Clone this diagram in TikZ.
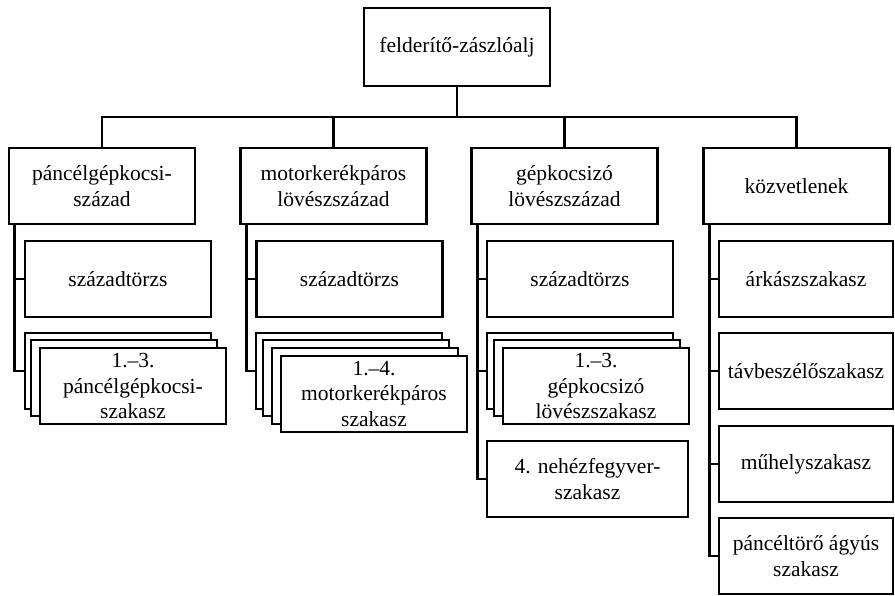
\documentclass[tikz,border=0pt]{standalone}
\usepackage{fontspec}
\setmainfont{Liberation Serif}
\begin{document}
\begin{tikzpicture}[x=1pt,y=-1pt,
  lw/.style={line width=2.6pt},
  box/.style={draw, lw, fill=white, align=center, inner sep=0pt,
    minimum width=186pt, minimum height=76pt,
    font=\fontsize{21.5}{25.5}\selectfont},
  link/.style={lw, line join=miter}]
\fill[white] (0,0) rectangle (895,596);
\useasboundingbox (0,0) rectangle (895,596);

% top
\node[box, minimum height=78pt] (top) at (457,47) {felderítő-zászlóalj};
% level 2
\node[box] (A) at (102,186) {páncélgépkocsi-\\század};
\node[box] (B) at (333.5,186) {motorkerékpáros\\lövészszázad};
\node[box] (C) at (564.5,186) {gépkocsizó\\lövészszázad};
\node[box] (D) at (796.5,186) {közvetlenek};

% column 1
\node[box] (sz1) at (118,279) {századtörzs};
\node[box] (a1) at (118,371) {};
\node[box] (a2) at (124,378) {};
\node[box] (a3) at (133,386) {1.–3.\\páncélgépkocsi-\\szakasz};

% column 2
\node[box] (sz2) at (349.5,279) {századtörzs};
\node[box] (b1) at (349,371) {};
\node[box] (b2) at (356,378) {};
\node[box] (b3) at (365,386) {};
\node[box] (b4) at (374,394) {1.–4.\\motorkerékpáros\\szakasz};

% column 3
\node[box] (sz3) at (580,279) {századtörzs};
\node[box] (c1) at (580,371) {};
\node[box] (c2) at (587,378) {};
\node[box] (c3) at (596,386) {1.–3.\\gépkocsizó\\lövészszakasz};
\node[box, minimum width=201pt] (neh) at (587.5,479) {4. nehézfegyver-\\szakasz};

% column 4
\node[box, minimum width=174pt] (d1) at (806,279) {árkászszakasz};
\node[box, minimum width=174pt] (d2) at (806,371) {távbeszélőszakasz};
\node[box, minimum width=174pt] (d3) at (806,464) {műhelyszakasz};
\node[box, minimum width=174pt] (d4) at (806,556) {páncéltörő ágyús\\szakasz};

% bus
\coordinate (bus) at (457,117);
\draw[link] (top.south) -- (bus);
\draw[link] (A.north) -- (A.north |- bus) -- (D.north |- bus) -- (D.north);
\draw[link] (B.north) -- (B.north |- bus);
\draw[link] (C.north) -- (C.north |- bus);

% spines
\coordinate (sA) at ([xshift=7pt]A.south west);
\coordinate (sB) at ([xshift=7pt]B.south west);
\coordinate (sC) at ([xshift=7pt]C.south west);
\coordinate (sD) at ([xshift=7pt]D.south west);

\draw[link] (sA) |- (a1.west);
\draw[link] (sA |- sz1.west) -- (sz1.west);

\draw[link] (sB) |- (b1.west);
\draw[link] (sB |- sz2.west) -- (sz2.west);

\draw[link] (sC) |- (neh.west);
\draw[link] (sC |- sz3.west) -- (sz3.west);
\draw[link] (sC |- c1.west) -- (c1.west);

\draw[link] (sD) |- (d4.west);
\draw[link] (sD |- d1.west) -- (d1.west);
\draw[link] (sD |- d2.west) -- (d2.west);
\draw[link] (sD |- d3.west) -- (d3.west);
\end{tikzpicture}
\end{document}
